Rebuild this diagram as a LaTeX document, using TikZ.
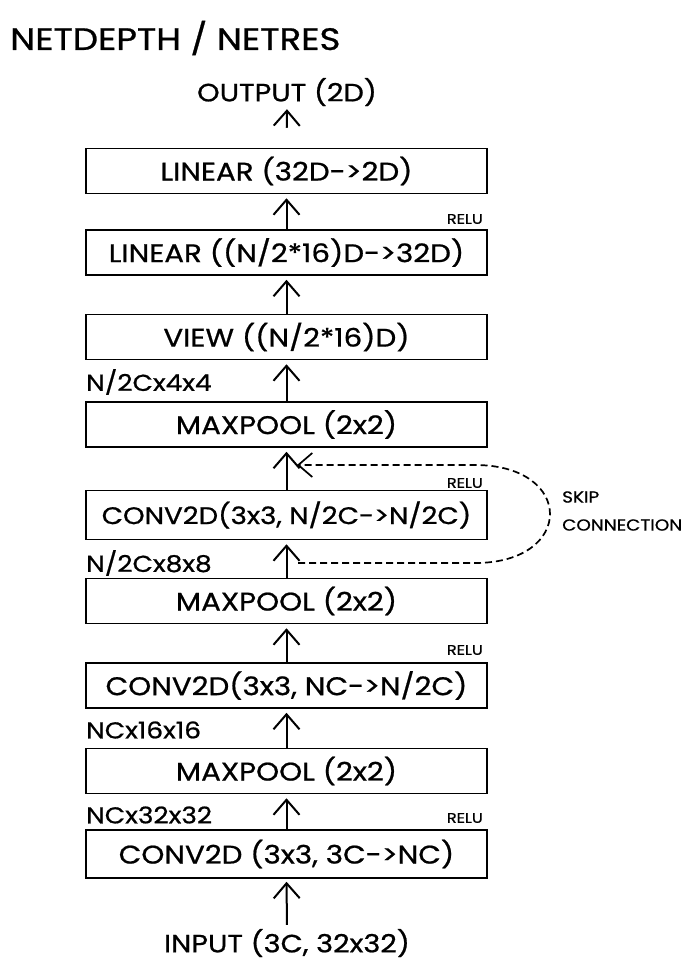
\documentclass[tikz,border=0pt]{standalone}
\usepackage{fontspec}
\setmainfont{Poppins}[FakeStretch=1.15,FakeBold=0.8]
\usetikzlibrary{arrows.meta}
\begin{document}
\begin{tikzpicture}[x=1pt,y=-1pt,
  blk/.style={draw,line width=1.5pt,minimum width=401pt,minimum height=45pt,inner sep=0pt,font=\fontsize{25.5}{27}\selectfont},
  flow/.style={line width=2pt,-{Straight Barb[length=15pt,width=26pt,line width=2pt]}},
  skipline/.style={line width=1.7pt,dash pattern=on 7pt off 4pt,-{Straight Barb[length=14pt,width=24pt,line width=1.7pt]}},
  relu/.style={anchor=east,font=\fontsize{14}{15}\selectfont,inner sep=0pt},
  dim/.style={anchor=west,font=\fontsize{23}{24}\selectfont,inner sep=0pt},
  io/.style={font=\fontsize{25}{27}\selectfont,inner sep=0pt}]
\useasboundingbox (0,0) rectangle (692,964);

\node[anchor=west,inner sep=0pt,font=\fontsize{31}{33}\selectfont] (title) at (10,38) {NETDEPTH / NETRES};
\node[io] (out) at (287,92) {OUTPUT (2D)};

\node[blk] (b1) at (286.5,171) {LINEAR (32D->2D)};
\node[blk] (b2) at (286.5,252.5) {LINEAR ((N/2*16)D->32D)};
\node[blk] (b3) at (286.5,337) {VIEW ((N/2*16)D)};
\node[blk] (b4) at (286.5,424.5) {MAXPOOL (2x2)};
\node[blk,minimum height=49pt,font=\fontsize{24}{26}\selectfont] (b5) at (286.5,515) {CONV2D(3x3, N/2C->N/2C)};
\node[blk] (b6) at (286.5,601) {MAXPOOL (2x2)};
\node[blk] (b7) at (286.5,685.5) {CONV2D(3x3, NC->N/2C)};
\node[blk] (b8) at (286.5,771) {MAXPOOL (2x2)};
\node[blk,minimum height=48pt] (b9) at (286.5,854) {CONV2D (3x3, 3C->NC)};
\node[io] (in) at (287,943) {INPUT (3C, 32x32)};

\node[relu] (r2) at (483,219) {RELU};
\node[relu] (r5) at (483,483) {RELU};
\node[relu] (r7) at (483,650) {RELU};
\node[relu] (r9) at (483,818) {RELU};

\node[dim] (d4) at (86,382) {N/2Cx4x4};
\node[dim] (d6) at (86,563) {N/2Cx8x8};
\node[dim] (d8) at (86,730) {NCx16x16};
\node[dim] (d9) at (86,815) {NCx32x32};

\draw[flow,shorten <=4pt,shorten >=3pt] (in.north) -- (b9.south);
\draw[flow,shorten >=4pt] (b9.north) -- (b8.south);
\draw[flow,shorten >=4pt] (b8.north) -- (b7.south);
\draw[flow,shorten >=4pt] (b7.north) -- (b6.south);
\draw[flow,shorten >=4pt] (b6.north) -- (b5.south);
\draw[flow,shorten >=4pt] (b5.north) -- (b4.south);
\draw[flow,shorten >=4pt] (b4.north) -- (b3.south);
\draw[flow,shorten >=4pt] (b3.north) -- (b2.south);
\draw[flow,shorten >=4pt] (b2.north) -- (b1.south);
\draw[flow,shorten <=20pt,shorten >=3pt] (b1.north) -- (out.south);

\coordinate (sk1) at (298,563);
\coordinate (sk2) at (297,465);
\draw[skipline] (sk1) -- (475,563) .. controls (575,563) and (575,465) .. (475,465) -- (sk2);
\node[anchor=west,align=left,inner sep=0pt,font=\fontsize{16}{28}\selectfont] (skl) at (562,511) {SKIP\\CONNECTION};
\end{tikzpicture}
\end{document}
